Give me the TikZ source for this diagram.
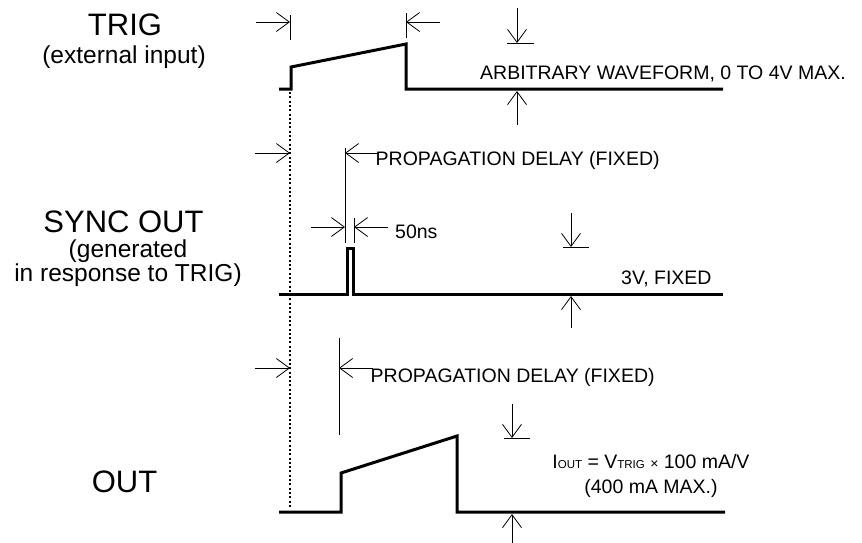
\documentclass[tikz,border=0pt]{standalone}
\usepackage{fontspec}
\setmainfont{Liberation Sans}
\usetikzlibrary{arrows.meta}
\newcommand{\fs}[1]{\fontsize{#1}{#1}\selectfont}
\tikzset{
  wave/.style={line width=3pt, line join=miter, line cap=butt},
  dim/.style={line width=0.8pt, -{Straight Barb[length=13pt,width=19pt]}},
  tickline/.style={line width=0.8pt},
  dotline/.style={line width=2.1pt, dash pattern=on 2pt off 2.3pt},
  big/.style={inner sep=0pt, anchor=base, font=\fs{31}},
  sub/.style={inner sep=0pt, anchor=base, font=\fs{24.5}},
  lab/.style={inner sep=0pt, anchor=base west, font=\fs{19.5}},
}
\begin{document}
\begin{tikzpicture}[x=1pt, y=-1pt]
\useasboundingbox (0,0) rectangle (862,542);

% ---- left labels
\node[big] (trig) at (125,35) {TRIG};
\node[sub] (trigsub) at (124,63) {(external input)};
\node[big] (sync) at (123.5,232) {SYNC OUT};
\node[sub, align=center, font=\fontsize{24.5}{22}\selectfont] (syncsub) at (128,281)
  {(generated\\in response to TRIG)};
\node[big] (out) at (124.5,492) {OUT};

% ---- waveforms
\draw[wave] (279,89) -- (291,89) -- (291,67) -- (406,44) -- (406,89) -- (723,89);
\draw[wave] (279,294) -- (347,294) -- (347,248) -- (353,248) -- (353,294) -- (723,294);
\draw[wave] (279,512) -- (341,512) -- (341,473) -- (457,436) -- (457,512) -- (725,512);

% ---- dotted reference line
\coordinate (dtop) at (290,92);
\coordinate (dbot) at (290,507);
\draw[dotline] (dtop) -- (dbot);

% ---- TRIG dimension marks
\coordinate (t1a) at (290,15); \coordinate (t1b) at (290,40);
\coordinate (t2a) at (406,13); \coordinate (t2b) at (406,38);
\draw[tickline] (t1a) -- (t1b);
\draw[tickline] (t2a) -- (t2b);
\coordinate (ta0) at (256,22); \coordinate (ta1) at (290,22);
\coordinate (tb0) at (440,22); \coordinate (tb1) at (406,22);
\draw[dim] (ta0) -- (ta1);
\draw[dim] (tb0) -- (tb1);
% amplitude
\coordinate (ad0) at (517,8); \coordinate (ad1) at (517,43);
\coordinate (au0) at (517,125); \coordinate (au1) at (517,91);
\coordinate (atl) at (507,43); \coordinate (atr) at (534,43);
\draw[dim] (ad0) -- (ad1);
\draw[tickline] (atl) -- (atr);
\draw[dim] (au0) -- (au1);
\node[lab] (arb) at (480,79) {ARBITRARY WAVEFORM, 0 TO 4V MAX.};

% ---- SYNC dimension marks
\coordinate (sa0) at (255,153); \coordinate (sa1) at (290,153);
\draw[dim] (sa0) -- (sa1);
\coordinate (s1a) at (345,148); \coordinate (s1b) at (345,243);
\draw[tickline] (s1a) -- (s1b);
\coordinate (s2a) at (354,218); \coordinate (s2b) at (354,243);
\draw[tickline] (s2a) -- (s2b);
\coordinate (sb0) at (378,153); \coordinate (sb1) at (345,153);
\draw[dim] (sb0) -- (sb1);
\node[lab] (prop1) at (375.5,165) {PROPAGATION DELAY (FIXED)};
\coordinate (wa0) at (311,227); \coordinate (wa1) at (345,227);
\coordinate (wb0) at (388,227); \coordinate (wb1) at (354,227);
\draw[dim] (wa0) -- (wa1);
\draw[dim] (wb0) -- (wb1);
\node[lab] (ns) at (395,238) {50ns};
% amplitude
\coordinate (sd0) at (571,213); \coordinate (sd1) at (571,247);
\coordinate (sl) at (563,247); \coordinate (sr) at (589,247);
\coordinate (su0) at (571,328); \coordinate (su1) at (571,296);
\draw[dim] (sd0) -- (sd1);
\draw[tickline] (sl) -- (sr);
\draw[dim] (su0) -- (su1);
\node[lab] (fixed) at (621,284) {3V, FIXED};

% ---- OUT dimension marks
\coordinate (oa0) at (255,368); \coordinate (oa1) at (290,368);
\draw[dim] (oa0) -- (oa1);
\coordinate (o1a) at (339,338); \coordinate (o1b) at (339,435);
\draw[tickline] (o1a) -- (o1b);
\coordinate (ob0) at (373,368); \coordinate (ob1) at (339,368);
\draw[dim] (ob0) -- (ob1);
\node[lab] (prop2) at (370.5,382) {PROPAGATION DELAY (FIXED)};
% amplitude
\coordinate (od0) at (512,404); \coordinate (od1) at (512,438);
\coordinate (ol) at (504,438); \coordinate (or) at (530,438);
\coordinate (ou0) at (512,545); \coordinate (ou1) at (512,514);
\draw[dim] (od0) -- (od1);
\draw[tickline] (ol) -- (or);
\draw[dim] (ou0) -- (ou1);
\node[inner sep=0pt, anchor=base, font=\fs{19.5}] (iout) at (651,468)
  {I{\fs{11.5}OUT} = V{\fs{11.5}TRIG} {\fs{14}×} 100 mA/V};
\node[inner sep=0pt, anchor=base, font=\fs{19.5}] (imax) at (651,493) {(400 mA MAX.)};
\end{tikzpicture}
\end{document}
